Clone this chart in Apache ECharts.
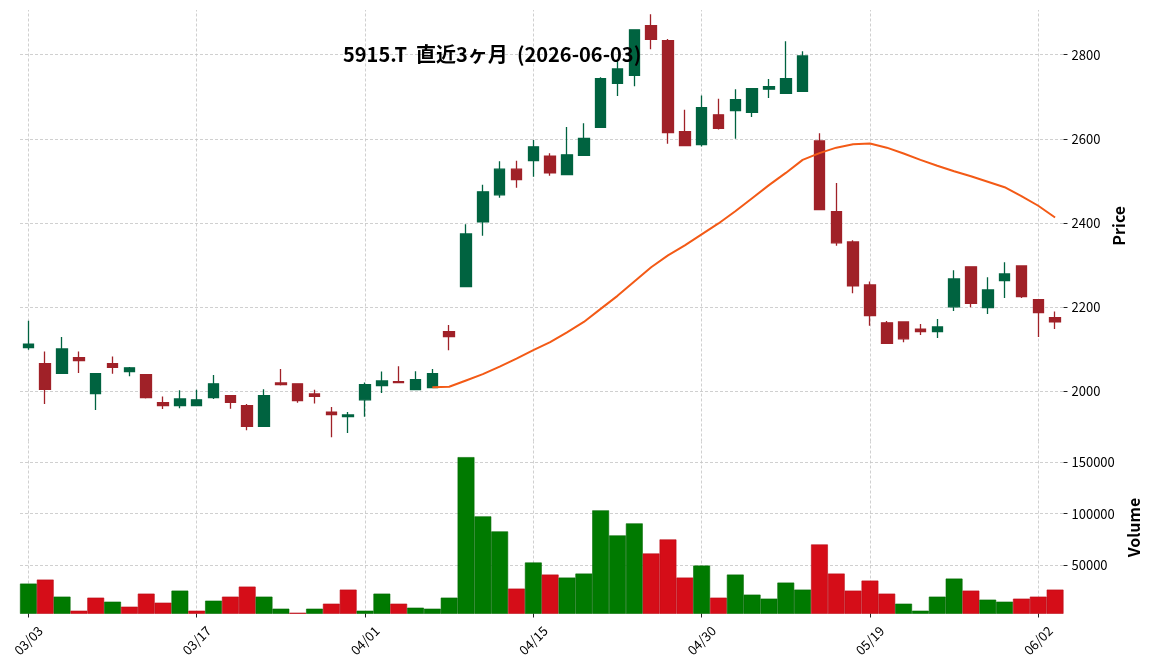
<!DOCTYPE html>
<html>
<head>
<meta charset="utf-8">
<title>5915.T</title>
<script src="https://cdn.jsdelivr.net/npm/echarts@6/dist/echarts.min.js"></script>
<style>
  html, body { margin: 0; padding: 0; background: #fff; }
  #chart { width: 1152px; height: 670px; }
</style>
</head>
<body>
<div id="chart"></div>
<script>
// 日付 (営業日)
const dates = [
  '03/03','03/04','03/05','03/06','03/09','03/10','03/11','03/12','03/13','03/16',
  '03/17','03/18','03/19','03/23','03/24','03/25','03/26','03/27','03/30','03/31',
  '04/01','04/02','04/03','04/06','04/07','04/08','04/09','04/10','04/13','04/14',
  '04/15','04/16','04/17','04/20','04/21','04/22','04/23','04/24','04/27','04/28',
  '04/30','05/01','05/07','05/08','05/11','05/12','05/13','05/14','05/15','05/18',
  '05/19','05/20','05/21','05/22','05/25','05/26','05/27','05/28','05/29','06/01',
  '06/02','06/03'
];

const opens = [
  2104, 2066, 2043, 2080, 1995, 2066, 2047, 2040, 1973, 1966,
  1966, 1985, 1990, 1966, 1917, 2020, 2018, 1994, 1951, 1940,
  1980, 2014, 2023, 2004, 2009, 2142, 2249, 2403, 2467, 2528,
  2548, 2559, 2515, 2561, 2627, 2732, 2751, 2869, 2833, 2617,
  2586, 2657, 2667, 2663, 2718, 2708, 2713, 2595, 2427, 2355,
  2253, 2163, 2165, 2148, 2142, 2201, 2296, 2199, 2263, 2298,
  2218, 2175
];
const closes = [
  2112, 2005, 2101, 2073, 2042, 2057, 2056, 1985, 1966, 1982,
  1980, 2018, 1974, 1917, 1990, 2016, 1978, 1988, 1945, 1944,
  2016, 2025, 2021, 2028, 2042, 2130, 2374, 2474, 2528, 2503,
  2581, 2519, 2562, 2601, 2743, 2766, 2859, 2836, 2615, 2584,
  2674, 2625, 2693, 2719, 2724, 2743, 2797, 2432, 2353, 2251,
  2180, 2114, 2125, 2142, 2153, 2267, 2209, 2241, 2279, 2225,
  2187, 2165
];
const highs = [
  2168, 2095, 2129, 2095, 2042, 2083, 2058, 2040, 1988, 2003,
  2004, 2039, 1990, 1970, 2005, 2053, 2018, 2004, 1963, 1951,
  2021, 2047, 2060, 2048, 2053, 2158, 2397, 2491, 2547, 2548,
  2597, 2566, 2628, 2637, 2746, 2788, 2860, 2896, 2837, 2669,
  2703, 2695, 2718, 2719, 2742, 2832, 2808, 2613, 2495, 2359,
  2261, 2167, 2165, 2160, 2172, 2288, 2296, 2271, 2307, 2298,
  2218, 2190
];
const lows = [
  2099, 1970, 2042, 2044, 1956, 2042, 2036, 1983, 1958, 1960,
  1965, 1982, 1959, 1908, 1916, 2014, 1973, 1971, 1891, 1901,
  1940, 1996, 2020, 2003, 2008, 2098, 2248, 2370, 2460, 2484,
  2510, 2512, 2514, 2560, 2626, 2702, 2725, 2813, 2588, 2583,
  2582, 2622, 2600, 2652, 2697, 2707, 2712, 2431, 2346, 2233,
  2156, 2113, 2117, 2134, 2127, 2191, 2200, 2184, 2222, 2222,
  2129, 2148
];

// 25日移動平均 (25本目から)
const maStart = 24;
const ma25 = [
  2010, 2011, 2026, 2041, 2059, 2078, 2098, 2117, 2140, 2165,
  2196, 2227, 2261, 2295, 2323, 2347, 2373, 2399, 2428, 2459,
  2490, 2519, 2550, 2566, 2579, 2587, 2589, 2579, 2565, 2550,
  2536, 2523, 2511, 2498, 2485, 2464, 2441, 2413
];

const volumes = [
  31700, 35600, 18950, 5230, 17970, 14050, 9150, 21900, 13070, 24840,
  5230, 15030, 18950, 28760, 18950, 7190, 3270, 7190, 12090, 25820,
  5230, 21900, 12090, 8170, 7190, 17970, 155230, 97390, 82680, 26800,
  52290, 40520, 37580, 41500, 103270, 78760, 90520, 61110, 74840, 37580,
  49350, 17970, 40520, 20910, 16990, 32680, 25820, 69930, 41500, 24840,
  34640, 21900, 12090, 5230, 18950, 36600, 24840, 16010, 14050, 16990,
  18950, 25820
];

const priceTicks = [2000, 2200, 2400, 2600, 2800];
const volumeTicks = [50000, 100000, 150000];

const FONT = 'Noto Sans CJK JP';
const gridColor = '#c4c4c4';

// echarts candlestick: [open, close, low, high]
const candleData = dates.map((d, i) => [opens[i], closes[i], lows[i], highs[i]]);

const maData = dates.map((d, i) => (i < maStart ? '-' : ma25[i - maStart]));

// 出来高の色は前日終値との比較
const volumeData = volumes.map((v, i) => {
  const up = i === 0 ? closes[0] >= opens[0] : closes[i] >= closes[i - 1];
  return {
    value: v,
    itemStyle: {
      color: up ? '#007a00' : '#d50d18',
      borderColor: up ? '#006a00' : '#bb0b15'
    }
  };
});

// 10本ごとの縦グリッド (バーの後ろに描く)
const vLines = dates.filter((d, i) => i % 10 === 0).map(d => ({ xAxis: d }));
const vLineStyle = { color: gridColor, type: [3, 2], width: 0.8 };

const every10 = (idx) => idx % 10 === 0;
const plain = (v) => String(v);

function gridSeries(axisIdx) {
  return {
    type: 'line',
    xAxisIndex: axisIdx,
    yAxisIndex: axisIdx,
    data: [],
    z: 0,
    silent: true,
    markLine: {
      silent: true,
      z: 0,
      symbol: 'none',
      label: { show: false },
      lineStyle: vLineStyle,
      data: vLines
    }
  };
}

const chart = echarts.init(document.getElementById('chart'));

const option = {
  backgroundColor: '#ffffff',
  animation: false,
  textStyle: { fontFamily: FONT },
  title: {
    text: '5915.T  直近3ヶ月  (2026-06-03)',
    left: 338,
    top: 39,
    textStyle: { fontFamily: FONT, fontSize: 20, fontWeight: 'bold', color: '#000' }
  },
  grid: [
    { left: 20, right: 88.5, top: 10, height: 431.5 },
    { left: 20, right: 88.5, top: 441.5, height: 172 }
  ],
  xAxis: [
    {
      type: 'category',
      gridIndex: 0,
      data: dates,
      boundaryGap: true,
      axisLine: { show: false },
      axisTick: { show: false },
      axisLabel: { show: false },
      splitLine: { show: false }
    },
    {
      type: 'category',
      gridIndex: 1,
      data: dates,
      boundaryGap: true,
      axisLine: { show: false },
      axisTick: {
        show: true,
        alignWithLabel: true,
        interval: every10,
        length: 4,
        lineStyle: { color: '#222', width: 1 }
      },
      axisLabel: {
        interval: every10,
        rotate: 45,
        align: 'center',
        verticalAlign: 'middle',
        margin: 27,
        fontSize: 13,
        color: '#000',
        fontFamily: FONT
      },
      splitLine: { show: false }
    }
  ],
  yAxis: [
    {
      type: 'value',
      gridIndex: 0,
      position: 'right',
      min: 1881,
      max: 2906,
      name: 'Price',
      nameLocation: 'middle',
      nameRotate: 90,
      nameGap: 42,
      nameTextStyle: { fontFamily: FONT, fontSize: 16, fontWeight: 'bold', color: '#000' },
      axisLine: { show: false },
      axisTick: { show: true, length: 4, customValues: priceTicks, lineStyle: { color: '#222' } },
      axisLabel: { customValues: priceTicks, formatter: plain, margin: 8, fontSize: 13, color: '#000', fontFamily: FONT },
      splitLine: { show: true, lineStyle: vLineStyle }
    },
    {
      type: 'value',
      gridIndex: 1,
      position: 'right',
      min: 2500,
      max: 170500,
      name: 'Volume',
      nameLocation: 'middle',
      nameRotate: 90,
      nameGap: 58,
      nameTextStyle: { fontFamily: FONT, fontSize: 16, fontWeight: 'bold', color: '#000' },
      axisLine: { show: false },
      axisTick: { show: true, length: 4, customValues: volumeTicks, lineStyle: { color: '#222' } },
      axisLabel: { customValues: volumeTicks, formatter: plain, margin: 8, fontSize: 13, color: '#000', fontFamily: FONT },
      splitLine: { show: true, lineStyle: vLineStyle }
    }
  ],
  series: [
    gridSeries(0),
    gridSeries(1),
    {
      name: 'candle',
      type: 'candlestick',
      xAxisIndex: 0,
      yAxisIndex: 0,
      data: candleData,
      barWidth: 11,
      z: 2,
      itemStyle: {
        color: '#006340',
        color0: '#a02128',
        borderColor: '#006340',
        borderColor0: '#a02128',
        borderWidth: 1.3
      }
    },
    {
      name: 'MA25',
      type: 'line',
      xAxisIndex: 0,
      yAxisIndex: 0,
      data: maData,
      showSymbol: false,
      lineStyle: { color: '#f35a16', width: 2 },
      z: 3
    },
    {
      name: 'Volume',
      type: 'bar',
      xAxisIndex: 1,
      yAxisIndex: 1,
      data: volumeData,
      barWidth: '100%',
      z: 2,
      itemStyle: { borderWidth: 0.6 }
    }
  ]
};

chart.setOption(option);
</script>
</body>
</html>
